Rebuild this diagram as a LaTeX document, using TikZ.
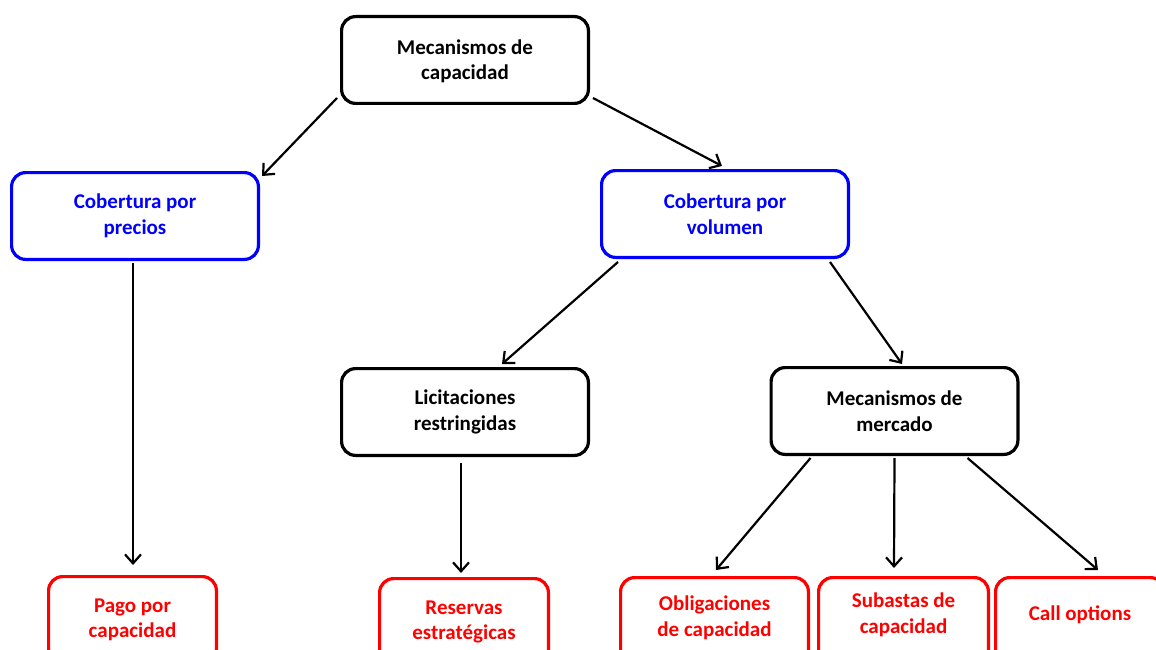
\documentclass[tikz,border=0pt]{standalone}
\usepackage{fontspec}
\setmainfont{Carlito}
\usetikzlibrary{arrows.meta}
\definecolor{bblue}{RGB}{0,0,255}
\definecolor{rred}{RGB}{255,0,0}
\newcommand{\rtext}[2]{\raisebox{#1}[20pt][20pt]{\begin{tabular}{@{}c@{}}#2\end{tabular}}}
\tikzset{
  box/.style={draw, line width=3.2pt, rounded corners=14pt, align=center,
    font=\bfseries\fontsize{21}{25.5}\selectfont, inner sep=2pt,
    minimum height=86.8pt},
  bk/.style={box, draw=black, text=black, minimum width=246.8pt},
  bl/.style={box, draw=bblue, text=bblue, minimum width=246.8pt},
  rd/.style={box, draw=rred, text=rred},
  arr/.style={-{Straight Barb[length=9pt,width=16pt,line width=2.2pt]}, line width=2.2pt, black}
}
\begin{document}
\begin{tikzpicture}[x=1pt,y=-1pt]
\useasboundingbox (0,0) rectangle (1156,650);
\fill[white] (0,0) rectangle (1156,650);
\node[bk] (top) at (465,60) {\rtext{-7pt}{Mecanismos de\\capacidad}};
\node[bl] (cl) at (135,216) {Cobertura por\\precios};
\node[bl] (cr) at (725,214) {Cobertura por\\volumen};
\node[bk] (lic) at (465,412) {Licitaciones\\restringidas};
\node[bk] (mer) at (894.5,411) {Mecanismos de\\mercado};
\node[rd, minimum width=167.8pt] (pago) at (132.5,620) {Pago por\\capacidad};
\node[rd, minimum width=168.8pt] (res) at (464,622) {Reservas\\estratégicas};
\node[rd, minimum width=187.8pt] (obl) at (714.5,621) {\rtext{-2.6pt}{Obligaciones\\de capacidad}};
\node[rd, minimum width=169.8pt] (sub) at (903.5,621) {\rtext{0.4pt}{Subastas de\\capacidad}};
\node[rd, minimum width=168.8pt] (call) at (1080,621) {\rtext{0.4pt}{Call options}};
\draw[arr] ([xshift=-3pt,yshift=7pt]top.south west) -- ([xshift=2pt,yshift=-5pt]cl.north east);
\draw[arr] ([xshift=3pt,yshift=7pt]top.south east) -- ([xshift=-3pt,yshift=3pt]cr.north);
\draw[arr] ([xshift=-2pt,yshift=-2pt]cl.south) -- ([xshift=0.5pt,yshift=10pt]pago.north);
\draw[arr] ([xshift=18pt,yshift=-3pt]cr.south west) -- ([xshift=37pt,yshift=3pt]lic.north);
\draw[arr] ([xshift=-20pt,yshift=-3pt]cr.south east) -- ([xshift=7.5pt,yshift=2pt]mer.north);
\draw[arr] ([xshift=-4pt,yshift=-6pt]lic.south) -- ([xshift=-3pt,yshift=4pt]res.north);
\draw[arr] ([xshift=41pt,yshift=-2pt]mer.south west) -- ([xshift=1.5pt,yshift=6pt]obl.north);
\draw[arr] ([xshift=0pt,yshift=-2pt]mer.south) -- ([xshift=-9.5pt,yshift=8pt]sub.north);
\draw[arr] ([xshift=-52pt,yshift=-2pt]mer.south east) -- ([xshift=18pt,yshift=6pt]call.north);
\end{tikzpicture}
\end{document}
